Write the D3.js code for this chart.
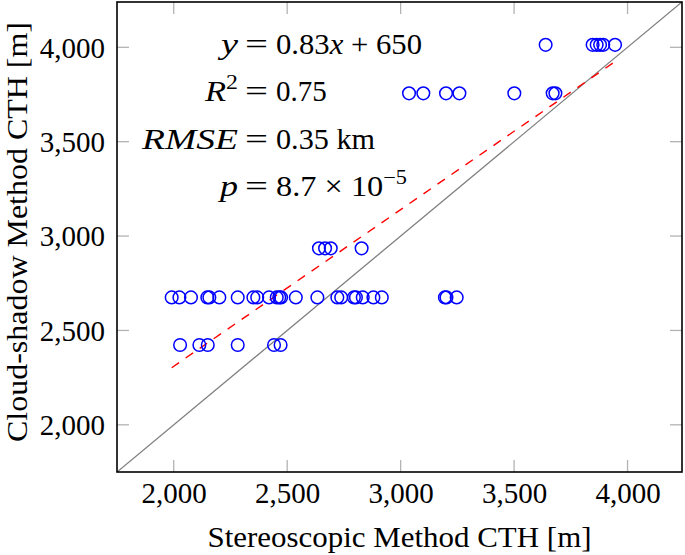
<!DOCTYPE html>
<html>
<head>
<meta charset="utf-8">
<script src="https://cdn.jsdelivr.net/npm/d3@7"></script>
<style>
  html, body { margin: 0; padding: 0; background: #fff; }
  svg text { font-family: "Liberation Serif", "DejaVu Serif", serif; fill: #000; }
</style>
</head>
<body>
<svg id="chart" width="685" height="555"></svg>
<script>
// ---- data ----
const xTicks = [2000, 2500, 3000, 3500, 4000];
const yTicks = [2000, 2500, 3000, 3500, 4000];
const xDomain = [1750, 4240];
const yDomain = [1750, 4240];

// stereoscopic CTH (x) and cloud-shadow CTH (y), grouped by shadow level
const stereo = [
  3639, 3846, 3864, 3879, 3893, 3945,
  3037, 3100, 3200, 3259, 3501, 3670, 3682,
  2640, 2667, 2692, 2828,
  1991, 2025, 2076, 2148, 2157, 2201, 2282, 2351, 2368, 2420, 2454, 2465, 2473,
  2538, 2633, 2721, 2738, 2794, 2803, 2833, 2880, 2917, 3195, 3202, 3247,
  2028, 2113, 2150, 2282, 2442, 2471
];
const shadow = [
  4013, 4013, 4013, 4013, 4013, 4013,
  3756, 3756, 3756, 3756, 3756, 3756, 3756,
  2935, 2935, 2935, 2935,
  2675, 2675, 2675, 2675, 2675, 2675, 2675, 2675, 2675, 2675, 2675, 2675, 2675,
  2675, 2675, 2675, 2675, 2675, 2675, 2675, 2675, 2675, 2675, 2675, 2675,
  2423, 2423, 2423, 2423, 2423, 2423
];
const fitSlope = 0.83;
const fitIntercept = 650;

// ---- layout ----
const svg = d3.select("#chart");
const L = 117, R = 682, T = 2, B = 472;
const x = d3.scaleLinear().domain(xDomain).range([L, R]);
const y = d3.scaleLinear().domain(yDomain).range([B, T]);
const fmt = d3.format(",");

svg.append("clipPath").attr("id", "clip")
  .append("rect").attr("x", L).attr("y", T).attr("width", R - L).attr("height", B - T);

// tick marks (inside, all four sides)
const tickLen = 12;
const tg = svg.append("g").attr("stroke", "#b3b3b3").attr("stroke-width", 1.3);
xTicks.forEach(t => {
  tg.append("line").attr("x1", x(t)).attr("x2", x(t)).attr("y1", B).attr("y2", B - tickLen);
  tg.append("line").attr("x1", x(t)).attr("x2", x(t)).attr("y1", T).attr("y2", T + tickLen);
});
yTicks.forEach(t => {
  tg.append("line").attr("y1", y(t)).attr("y2", y(t)).attr("x1", L).attr("x2", L + tickLen);
  tg.append("line").attr("y1", y(t)).attr("y2", y(t)).attr("x1", R).attr("x2", R - tickLen);
});

// axes with d3 (labels only)
const xAxis = d3.axisBottom(x).tickValues(xTicks).tickFormat(fmt).tickSize(0).tickPadding(0);
const yAxis = d3.axisLeft(y).tickValues(yTicks).tickFormat(fmt).tickSize(0).tickPadding(0);
const gx = svg.append("g").attr("transform", `translate(0,${B})`).call(xAxis);
gx.select(".domain").remove();
gx.selectAll("text").attr("dy", null).attr("y", 31).attr("font-size", 29)
  .attr("font-family", "Liberation Serif").attr("fill", "#000");
const gy = svg.append("g").attr("transform", `translate(${L},0)`).call(yAxis);
gy.select(".domain").remove();
gy.selectAll("text").attr("dy", "0.34em").attr("x", -12).attr("font-size", 29)
  .attr("font-family", "Liberation Serif").attr("fill", "#000");

const plot = svg.append("g").attr("clip-path", "url(#clip)");

// identity line
plot.append("line")
  .attr("x1", x(xDomain[0])).attr("y1", y(xDomain[0]))
  .attr("x2", x(xDomain[1])).attr("y2", y(xDomain[1]))
  .attr("stroke", "#808080").attr("stroke-width", 1.3);

// fit line
const xMin = d3.min(stereo), xMax = d3.max(stereo);
plot.append("line")
  .attr("x1", x(xMin)).attr("y1", y(fitSlope * xMin + fitIntercept))
  .attr("x2", x(xMax)).attr("y2", y(fitSlope * xMax + fitIntercept))
  .attr("stroke", "#ff0000").attr("stroke-width", 1.4)
  .attr("stroke-dasharray", "9,8");

// points
plot.selectAll("circle.pt").data(stereo.map((v, i) => [v, shadow[i]]))
  .enter().append("circle").attr("class", "pt")
  .attr("cx", d => x(d[0])).attr("cy", d => y(d[1])).attr("r", 6.3)
  .attr("fill", "none").attr("stroke", "#0000ff").attr("stroke-width", 1.5);

// frame
svg.append("rect").attr("x", L).attr("y", T).attr("width", R - L).attr("height", B - T)
  .attr("fill", "none").attr("stroke", "#000").attr("stroke-width", 1.6);

// annotations aligned at "="
const eqL = 245, eqW = 23, fs = 29;
const rows = [
  { base: 54, lw: 17, rw: 146, left: [["y", true]], right: [["0.83", false], ["x", true], [" + 650", false]] },
  { base: 101, lw: 33, rw: null, left: [["R", true], ["2", false, "sup"]], right: [["0.75", false]] },
  { base: 149, lw: 96, rw: 99, left: [["RMSE", true]], right: [["0.35 km", false]] },
  { base: 196, lw: 18, rw: 131, left: [["p", true]], right: [["8.7 × 10", false], ["−5", false, "sup"]] }
];
rows.forEach(r => {
  const lt = svg.append("text").attr("x", eqL - 7).attr("y", r.base).attr("font-size", fs)
    .attr("text-anchor", "end");
  if (r.lw) lt.attr("textLength", r.lw).attr("lengthAdjust", "spacingAndGlyphs");
  r.left.forEach(p => {
    const ts = lt.append("tspan").text(p[0]).attr("font-style", p[1] ? "italic" : "normal");
    if (p[2] === "sup") ts.attr("font-size", 20).attr("dy", -12);
  });
  svg.append("text").attr("x", eqL).attr("y", r.base).attr("font-size", fs)
    .attr("textLength", eqW).attr("lengthAdjust", "spacingAndGlyphs").text("=");
  const rt = svg.append("text").attr("x", eqL + eqW + 8).attr("y", r.base).attr("font-size", fs);
  if (r.rw) rt.attr("textLength", r.rw).attr("lengthAdjust", "spacingAndGlyphs");
  r.right.forEach(p => {
    const ts = rt.append("tspan").text(p[0]).attr("font-style", p[1] ? "italic" : "normal");
    if (p[2] === "sup") ts.attr("font-size", 20).attr("dy", -12);
  });
});

// axis titles
svg.append("text").attr("x", (L + R) / 2).attr("y", 547).attr("text-anchor", "middle")
  .attr("font-size", 29).attr("textLength", 384).attr("lengthAdjust", "spacingAndGlyphs")
  .text("Stereoscopic Method CTH [m]");
svg.append("text").attr("transform", `translate(27,232) rotate(-90)`)
  .attr("text-anchor", "middle").attr("font-size", 29)
  .attr("textLength", 420).attr("lengthAdjust", "spacingAndGlyphs")
  .text("Cloud-shadow Method CTH [m]");
</script>
</body>
</html>
